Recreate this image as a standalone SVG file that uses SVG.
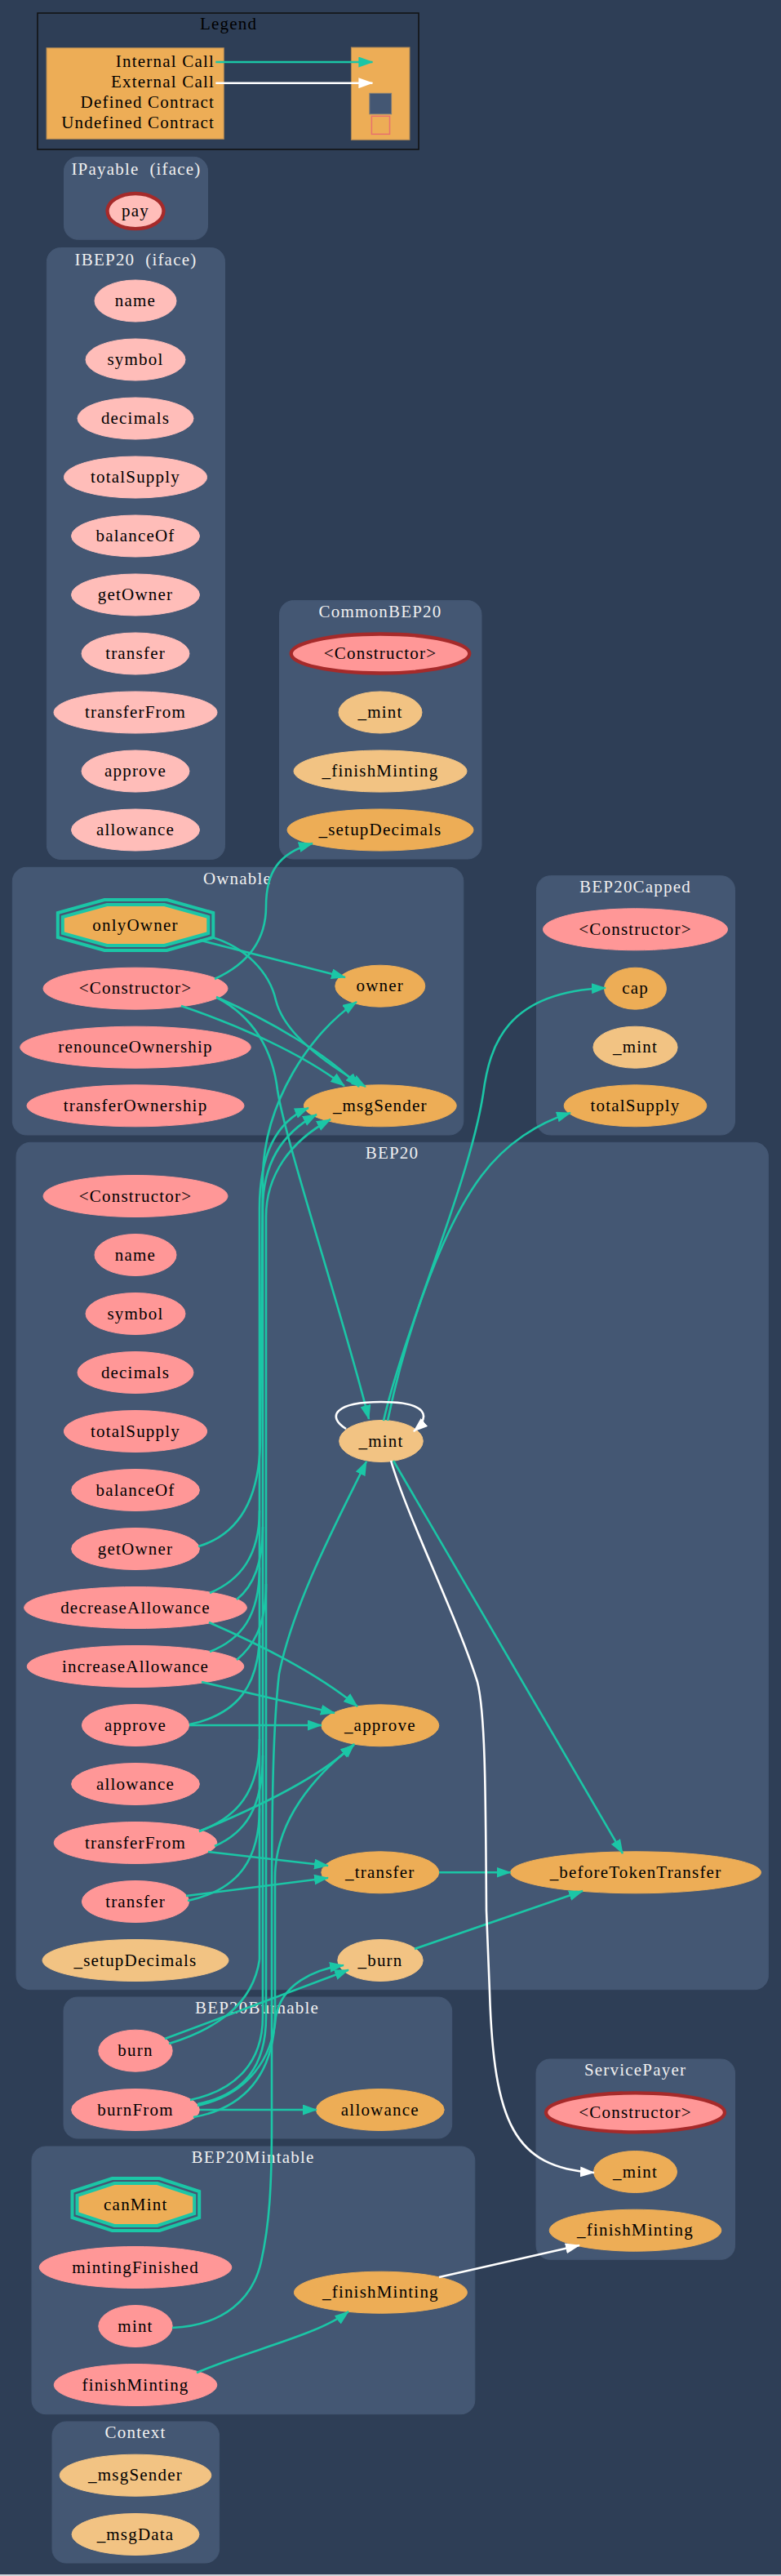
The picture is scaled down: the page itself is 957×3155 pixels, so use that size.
<svg xmlns="http://www.w3.org/2000/svg" width="957" height="3155" viewBox="0 0 957 3155">
<style>
.cl{fill:#445773;stroke:#445773;stroke-width:1}
.ct{font-family:"Liberation Serif","Times New Roman",serif;font-size:21px;fill:#f0f0f0;text-anchor:middle;letter-spacing:1.2px;white-space:pre}
.nt{font-family:"Liberation Serif","Times New Roman",serif;font-size:21px;fill:#000;text-anchor:middle;letter-spacing:1.2px}
.lt{font-family:"Liberation Serif","Times New Roman",serif;font-size:21px;fill:#000;text-anchor:end;letter-spacing:1.2px}
.pub{fill:#ff9797;stroke:#ff9797;stroke-width:1}
.ext{fill:#ffbdb9;stroke:#ffbdb9;stroke-width:1}
.int{fill:#f2c383;stroke:#f2c383;stroke-width:1}
.prv{fill:#edad56;stroke:#edad56;stroke-width:1}
.pay{stroke:#a52a2a;stroke-width:4.3}
.mo{fill:none;stroke:#1bc6a6;stroke-width:4}
.mi{fill:#edad56;stroke:#1bc6a6;stroke-width:4}
.ic{fill:none;stroke:#1bc6a6;stroke-width:2.6;marker-end:url(#at)}
.br{fill:none;stroke:#1bc6a6;stroke-width:2.6}
.ec{fill:none;stroke:#ffffff;stroke-width:2.6;marker-end:url(#aw)}
</style>
<defs>
<marker id="at" markerWidth="18" markerHeight="13" refX="17" refY="6.5" orient="auto" markerUnits="userSpaceOnUse"><path d="M0,0 L18,6.5 L0,13 z" fill="#1bc6a6"/></marker>
<marker id="aw" markerWidth="18" markerHeight="13" refX="17" refY="6.5" orient="auto" markerUnits="userSpaceOnUse"><path d="M0,0 L18,6.5 L0,13 z" fill="#ffffff"/></marker>
</defs>
<rect x="0" y="0" width="957" height="3155" fill="#2e3e56"/>
<rect x="0" y="3153" width="957" height="2" fill="#d0d4da"/>

<g id="legend">
<rect x="46" y="16" width="467" height="167" fill="none" stroke="#111" stroke-width="1.5"/>
<text class="ct" x="280" y="36" style="fill:#000">Legend</text>
<rect x="57" y="58.7" width="217.3" height="111.6" fill="#edad56" stroke="#a88454" stroke-width="1"/>
<rect x="430.4" y="58" width="71.6" height="113.3" fill="#edad56" stroke="#a88454" stroke-width="1"/>
<text class="lt" x="263" y="82">Internal Call</text>
<text class="lt" x="263" y="107">External Call</text>
<text class="lt" x="263" y="132">Defined Contract</text>
<text class="lt" x="263" y="157">Undefined Contract</text>
<path d="M264.3 76 L456.4 76" fill="none" stroke="#1bc6a6" stroke-width="2.6" marker-end="url(#at)"/>
<path d="M264.3 101.7 L456.4 101.7" fill="none" stroke="#ffffff" stroke-width="2.6" marker-end="url(#aw)"/>
<rect x="452.9" y="114.3" width="26.7" height="25.4" fill="#445773" stroke="#7a7a7a" stroke-width="1"/>
<rect x="455.4" y="142.3" width="22.1" height="22" fill="none" stroke="#e8726d" stroke-width="1.5"/>
</g>

<g id="cluster_IPayable">
<rect class="cl" x="78.5" y="192.3" width="176" height="101" rx="17"/>
<text class="ct" x="167" y="213.7" xml:space="preserve">IPayable  (iface)</text>
</g>
<g id="IPayable.pay"><ellipse class="ext pay" cx="166" cy="258.6" rx="34.5" ry="21.6"/><text class="nt" x="166" y="265">pay</text></g>

<g id="cluster_IBEP20">
<rect class="cl" x="57.4" y="303.5" width="218.1" height="749" rx="17"/>
<text class="ct" x="166.5" y="324.8" xml:space="preserve">IBEP20  (iface)</text>
</g>
<g id="IBEP20.name"><ellipse class="ext" cx="166" cy="368.5" rx="50" ry="25.5"/><text class="nt" x="166" y="375">name</text></g>
<g id="IBEP20.symbol"><ellipse class="ext" cx="166" cy="440.5" rx="61" ry="25.5"/><text class="nt" x="166" y="447">symbol</text></g>
<g id="IBEP20.decimals"><ellipse class="ext" cx="166" cy="512.5" rx="71" ry="25.5"/><text class="nt" x="166" y="519">decimals</text></g>
<g id="IBEP20.totalSupply"><ellipse class="ext" cx="166" cy="584.5" rx="87.5" ry="25.5"/><text class="nt" x="166" y="591">totalSupply</text></g>
<g id="IBEP20.balanceOf"><ellipse class="ext" cx="166" cy="656.5" rx="78.5" ry="25.5"/><text class="nt" x="166" y="663">balanceOf</text></g>
<g id="IBEP20.getOwner"><ellipse class="ext" cx="166" cy="728.5" rx="78.5" ry="25.5"/><text class="nt" x="166" y="735">getOwner</text></g>
<g id="IBEP20.transfer"><ellipse class="ext" cx="166" cy="800.5" rx="66" ry="25.5"/><text class="nt" x="166" y="807">transfer</text></g>
<g id="IBEP20.transferFrom"><ellipse class="ext" cx="166" cy="872.5" rx="100" ry="25.5"/><text class="nt" x="166" y="879">transferFrom</text></g>
<g id="IBEP20.approve"><ellipse class="ext" cx="166" cy="944.5" rx="66" ry="25.5"/><text class="nt" x="166" y="951">approve</text></g>
<g id="IBEP20.allowance"><ellipse class="ext" cx="166" cy="1016.5" rx="78.5" ry="25.5"/><text class="nt" x="166" y="1023">allowance</text></g>

<g id="cluster_CommonBEP20">
<rect class="cl" x="342.5" y="735.6" width="247.5" height="316.4" rx="17"/>
<text class="ct" x="466" y="756">CommonBEP20</text>
</g>
<g id="CommonBEP20.constructor"><ellipse class="pub pay" cx="466" cy="800.5" rx="109.3" ry="24"/><text class="nt" x="466" y="807">&lt;Constructor&gt;</text></g>
<g id="CommonBEP20._mint"><ellipse class="int" cx="466" cy="872.5" rx="51" ry="25.5"/><text class="nt" x="466" y="879">_mint</text></g>
<g id="CommonBEP20._finishMinting"><ellipse class="int" cx="466" cy="944.5" rx="106" ry="25.5"/><text class="nt" x="466" y="951">_finishMinting</text></g>
<g id="CommonBEP20._setupDecimals"><ellipse class="prv" cx="466" cy="1016.5" rx="114" ry="25.5"/><text class="nt" x="466" y="1023">_setupDecimals</text></g>

<g id="cluster_Ownable">
<rect class="cl" x="15.3" y="1062.3" width="552.5" height="327.7" rx="17"/>
<text class="ct" x="291" y="1082.7">Ownable</text>
</g>
<g id="Ownable.onlyOwner">
<polygon class="mo" points="128,1102 204.5,1102 261.3,1118 261.3,1148 204.5,1164 128,1164 70.8,1148 70.8,1118"/>
<polygon class="mi" points="131,1108 201.5,1108 255.3,1123 255.3,1143 201.5,1158 131,1158 76.8,1143 76.8,1123"/>
<text class="nt" x="166" y="1139.5">onlyOwner</text>
</g>
<g id="Ownable.constructor"><ellipse class="pub" cx="166" cy="1210.7" rx="113" ry="25.5"/><text class="nt" x="166" y="1217.2">&lt;Constructor&gt;</text></g>
<g id="Ownable.owner"><ellipse class="prv" cx="465.8" cy="1207.7" rx="55" ry="25.5"/><text class="nt" x="465.8" y="1214.2">owner</text></g>
<g id="Ownable.renounceOwnership"><ellipse class="pub" cx="166" cy="1282.7" rx="141.3" ry="25.5"/><text class="nt" x="166" y="1289.2">renounceOwnership</text></g>
<g id="Ownable.transferOwnership"><ellipse class="pub" cx="166" cy="1354.3" rx="133" ry="25.5"/><text class="nt" x="166" y="1360.8">transferOwnership</text></g>
<g id="Ownable._msgSender"><ellipse class="prv" cx="465.8" cy="1354.3" rx="93.4" ry="25.5"/><text class="nt" x="465.8" y="1360.8">_msgSender</text></g>

<g id="cluster_BEP20Capped">
<rect class="cl" x="657.5" y="1072.7" width="243" height="317.3" rx="17"/>
<text class="ct" x="778.5" y="1093">BEP20Capped</text>
</g>
<g id="BEP20Capped.constructor"><ellipse class="pub" cx="778.5" cy="1138.3" rx="113" ry="25.5"/><text class="nt" x="778.5" y="1144.8">&lt;Constructor&gt;</text></g>
<g id="BEP20Capped.cap"><ellipse class="prv" cx="778.5" cy="1210.7" rx="38" ry="25.5"/><text class="nt" x="778.5" y="1217.2">cap</text></g>
<g id="BEP20Capped._mint"><ellipse class="int" cx="778.5" cy="1282.7" rx="51.6" ry="25.5"/><text class="nt" x="778.5" y="1289.2">_mint</text></g>
<g id="BEP20Capped.totalSupply"><ellipse class="prv" cx="778.5" cy="1354.3" rx="87.3" ry="25.5"/><text class="nt" x="778.5" y="1360.8">totalSupply</text></g>

<g id="cluster_BEP20">
<rect class="cl" x="20" y="1399.3" width="921.4" height="1037.4" rx="17"/>
<text class="ct" x="480.5" y="1419.3">BEP20</text>
</g>
<g id="BEP20.constructor"><ellipse class="pub" cx="166" cy="1465" rx="113" ry="25.5"/><text class="nt" x="166" y="1471.5">&lt;Constructor&gt;</text></g>
<g id="BEP20.name"><ellipse class="pub" cx="166" cy="1537" rx="50" ry="25.5"/><text class="nt" x="166" y="1543.5">name</text></g>
<g id="BEP20.symbol"><ellipse class="pub" cx="166" cy="1609" rx="61" ry="25.5"/><text class="nt" x="166" y="1615.5">symbol</text></g>
<g id="BEP20.decimals"><ellipse class="pub" cx="166" cy="1681" rx="71" ry="25.5"/><text class="nt" x="166" y="1687.5">decimals</text></g>
<g id="BEP20.totalSupply"><ellipse class="pub" cx="166" cy="1753" rx="87.6" ry="25.5"/><text class="nt" x="166" y="1759.5">totalSupply</text></g>
<g id="BEP20.balanceOf"><ellipse class="pub" cx="166" cy="1825" rx="78.4" ry="25.5"/><text class="nt" x="166" y="1831.5">balanceOf</text></g>
<g id="BEP20.getOwner"><ellipse class="pub" cx="166" cy="1897" rx="78.4" ry="25.5"/><text class="nt" x="166" y="1903.5">getOwner</text></g>
<g id="BEP20.decreaseAllowance"><ellipse class="pub" cx="166" cy="1969" rx="136.4" ry="25.5"/><text class="nt" x="166" y="1975.5">decreaseAllowance</text></g>
<g id="BEP20.increaseAllowance"><ellipse class="pub" cx="166" cy="2041" rx="132.8" ry="25.5"/><text class="nt" x="166" y="2047.5">increaseAllowance</text></g>
<g id="BEP20.approve"><ellipse class="pub" cx="166" cy="2113" rx="65.6" ry="25.5"/><text class="nt" x="166" y="2119.5">approve</text></g>
<g id="BEP20.allowance"><ellipse class="pub" cx="166" cy="2185" rx="78.4" ry="25.5"/><text class="nt" x="166" y="2191.5">allowance</text></g>
<g id="BEP20.transferFrom"><ellipse class="pub" cx="166" cy="2257" rx="99.8" ry="25.5"/><text class="nt" x="166" y="2263.5">transferFrom</text></g>
<g id="BEP20.transfer"><ellipse class="pub" cx="166" cy="2329" rx="65.6" ry="25.5"/><text class="nt" x="166" y="2335.5">transfer</text></g>
<g id="BEP20._setupDecimals"><ellipse class="int" cx="166" cy="2401" rx="114" ry="25.5"/><text class="nt" x="166" y="2407.5">_setupDecimals</text></g>
<g id="BEP20._mint"><ellipse class="int" cx="467" cy="1765" rx="51.3" ry="25.5"/><text class="nt" x="467" y="1771.5">_mint</text></g>
<g id="BEP20._approve"><ellipse class="prv" cx="465.8" cy="2113.3" rx="72" ry="25.5"/><text class="nt" x="465.8" y="2119.8">_approve</text></g>
<g id="BEP20._transfer"><ellipse class="prv" cx="465.8" cy="2293.3" rx="72" ry="25.5"/><text class="nt" x="465.8" y="2299.8">_transfer</text></g>
<g id="BEP20._burn"><ellipse class="int" cx="466" cy="2401" rx="52.2" ry="25.5"/><text class="nt" x="466" y="2407.5">_burn</text></g>
<g id="BEP20._beforeTokenTransfer"><ellipse class="prv" cx="779" cy="2293.3" rx="153.5" ry="25.5"/><text class="nt" x="779" y="2299.8">_beforeTokenTransfer</text></g>

<g id="cluster_BEP20Burnable">
<rect class="cl" x="78" y="2446" width="475.7" height="173" rx="17"/>
<text class="ct" x="315" y="2465.7">BEP20Burnable</text>
</g>
<g id="BEP20Burnable.burn"><ellipse class="pub" cx="166" cy="2511.7" rx="45.2" ry="25.5"/><text class="nt" x="166" y="2518.2">burn</text></g>
<g id="BEP20Burnable.burnFrom"><ellipse class="pub" cx="166" cy="2584" rx="78.4" ry="25.5"/><text class="nt" x="166" y="2590.5">burnFrom</text></g>
<g id="BEP20Burnable.allowance"><ellipse class="prv" cx="465.8" cy="2584" rx="78.4" ry="25.5"/><text class="nt" x="465.8" y="2590.5">allowance</text></g>

<g id="cluster_BEP20Mintable">
<rect class="cl" x="39" y="2629" width="542.8" height="327.7" rx="17"/>
<text class="ct" x="310" y="2649">BEP20Mintable</text>
</g>
<g id="BEP20Mintable.canMint">
<polygon class="mo" points="137.4,2668 195.4,2668 244.2,2684 244.2,2716 195.4,2732 137.4,2732 88.5,2716 88.5,2684"/>
<polygon class="mi" points="140,2674 192.8,2674 238.2,2689 238.2,2711 192.8,2726 140,2726 94.5,2711 94.5,2689"/>
<text class="nt" x="166.3" y="2706.5">canMint</text>
</g>
<g id="BEP20Mintable.mintingFinished"><ellipse class="pub" cx="166" cy="2777" rx="117.8" ry="25.5"/><text class="nt" x="166" y="2783.5">mintingFinished</text></g>
<g id="BEP20Mintable.mint"><ellipse class="pub" cx="166" cy="2849" rx="45.2" ry="25.5"/><text class="nt" x="166" y="2855.5">mint</text></g>
<g id="BEP20Mintable.finishMinting"><ellipse class="pub" cx="166" cy="2921" rx="99.8" ry="25.5"/><text class="nt" x="166" y="2927.5">finishMinting</text></g>
<g id="BEP20Mintable._finishMinting"><ellipse class="prv" cx="466.4" cy="2807.7" rx="106" ry="25.5"/><text class="nt" x="466.4" y="2814.2">_finishMinting</text></g>

<g id="cluster_ServicePayer">
<rect class="cl" x="657" y="2522" width="243.5" height="245.3" rx="17"/>
<text class="ct" x="778.5" y="2542.3">ServicePayer</text>
</g>
<g id="ServicePayer.constructor"><ellipse class="pub pay" cx="778.5" cy="2587.3" rx="109.5" ry="24"/><text class="nt" x="778.5" y="2593.8">&lt;Constructor&gt;</text></g>
<g id="ServicePayer._mint"><ellipse class="prv" cx="778.5" cy="2660" rx="51" ry="25.5"/><text class="nt" x="778.5" y="2666.5">_mint</text></g>
<g id="ServicePayer._finishMinting"><ellipse class="prv" cx="778.5" cy="2731.7" rx="105.3" ry="25.5"/><text class="nt" x="778.5" y="2738.2">_finishMinting</text></g>

<g id="cluster_Context">
<rect class="cl" x="64" y="2966" width="204.6" height="173" rx="17"/>
<text class="ct" x="166" y="2986">Context</text>
</g>
<g id="Context._msgSender"><ellipse class="int" cx="166" cy="3031.7" rx="92.8" ry="25.5"/><text class="nt" x="166" y="3038.2">_msgSender</text></g>
<g id="Context._msgData"><ellipse class="int" cx="166" cy="3104" rx="78" ry="25.5"/><text class="nt" x="166" y="3110.5">_msgData</text></g>

<g id="connectors">
<path class="ic" d="M245 1151.5 L423 1197"/>
<path class="ic" d="M260 1148 C300 1160, 330 1190, 338 1225 C348 1265, 395 1300, 448 1331"/>
<path class="ic" d="M263 1199 C305 1180, 326 1150, 326 1110 C326 1070, 340 1045, 383 1033"/>
<path class="ic" d="M265 1221 C330 1250, 400 1290, 440 1331"/>
<path class="ic" d="M222 1232 C290 1255, 370 1290, 422 1330"/>
<path class="ic" d="M266 1222 C310 1245, 334 1285, 340 1335 C350 1400, 420 1610, 452 1738"/>
<path class="ic" d="M243 1894 C290 1880, 319 1840, 319 1760 L322 1440 C324 1350, 380 1265, 437 1227"/>
<path class="br" d="M257 1951 C295 1935, 318 1905, 318 1850"/>
<path class="br" d="M290 1959 C308 1945, 322 1920, 322 1870"/>
<path class="br" d="M257 2023 C295 2008, 318 1980, 318 1920"/>
<path class="br" d="M290 2033 C308 2018, 326 1995, 326 1940"/>
<path class="br" d="M232 2112 C290 2100, 318 2065, 318 2000"/>
<path class="br" d="M244 2243 C290 2226, 318 2195, 318 2130"/>
<path class="br" d="M263 2261 C300 2245, 322 2215, 322 2150"/>
<path class="br" d="M230 2328 C290 2315, 318 2280, 318 2215"/>
<path class="br" d="M207 2503 C265 2485, 310 2455, 318 2400"/>
<path class="br" d="M233 2572 C290 2560, 322 2525, 322 2470"/>
<path class="br" d="M242 2577 C300 2565, 326 2530, 326 2470"/>
<path class="ic" d="M318 2400 L318 1480 C318 1420, 335 1375, 378 1357"/>
<path class="ic" d="M322 2470 L322 1480 C322 1425, 345 1388, 388 1365"/>
<path class="ic" d="M326 2470 L326 1490 C326 1440, 355 1398, 405 1371"/>
<path class="ic" d="M256 1987 C320 2015, 390 2050, 438 2090"/>
<path class="ic" d="M247 2060 L410 2098"/>
<path class="ic" d="M232 2113 L394 2113"/>
<path class="ic" d="M244 2243 C300 2220, 390 2180, 434 2136"/>
<path class="ic" d="M237 2593 C300 2582, 335 2540, 337 2470 L337 2300 C337 2230, 385 2175, 434 2137"/>
<path class="ic" d="M255 2268 L402 2285"/>
<path class="ic" d="M228 2322 L402 2300"/>
<path class="ic" d="M538 2293.3 L625.5 2293.3"/>
<path class="ic" d="M508 2387 L714 2316"/>
<path class="ic" d="M482 1789 L763 2270"/>
<path class="ic" d="M202 2497 L427 2412.7"/>
<path class="ic" d="M242 2579 C305 2565, 334 2520, 338 2470 C345 2430, 385 2412, 421 2407"/>
<path class="ic" d="M245 2584 L388 2584"/>
<path class="ic" d="M211 2851 C275 2848, 310 2815, 320 2770 C330 2725, 333 2680, 333 2600 L333 2340 C333 2200, 335 2110, 342 2050 C360 1960, 420 1850, 449 1790"/>
<path class="ic" d="M241 2906 C300 2880, 390 2860, 427 2831"/>
<path class="ic" d="M470 1740 C495 1630, 575 1450, 592 1340 C600 1280, 620 1215, 742 1210"/>
<path class="ic" d="M475 1740 C500 1620, 545 1500, 590 1440 C620 1400, 660 1375, 699 1363"/>
<path class="ec" d="M424 1750 C400 1735, 410 1717, 467 1717 C525 1717, 528 1735, 507 1753"/>
<path class="ec" d="M479 1789 C500 1860, 560 1980, 585 2060 C595 2100, 595 2200, 596 2340 L600 2440 C605 2600, 630 2655, 728 2661"/>
<path class="ec" d="M538 2789 L710 2750"/>
</g>
</svg>
